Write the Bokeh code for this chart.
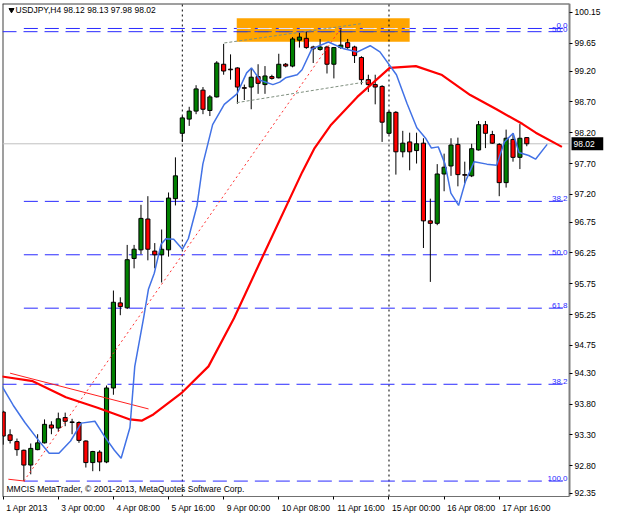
import pandas as pd
from bokeh.plotting import figure
from bokeh.models import Range1d, FixedTicker, Label, ColumnDataSource, PrintfTickFormatter
from bokeh.embed import file_html
from bokeh.resources import INLINE
from bokeh.core.properties import value

# ---------------- data ----------------
symbol = "USDJPY,H4"
bar_times = [t for t in pd.date_range("2013-04-01 16:00", "2013-04-18 08:00", freq="4h") if t.weekday() < 5]

opens = [93.67, 93.30, 93.19, 93.05, 92.81, 93.06, 93.17, 93.46, 93.41, 93.58,
         93.51, 93.50, 93.20, 92.85, 93.02, 92.86, 94.06, 95.44, 95.36, 96.16,
         96.30, 96.80, 96.28, 96.22, 96.30, 97.13, 98.19, 98.42, 98.55, 98.89,
         98.56, 98.78, 99.31, 99.23, 99.25, 98.93, 98.94, 99.11, 98.98, 99.11,
         99.09, 99.31, 99.28, 99.70, 99.73, 99.59, 99.55, 99.59, 99.31, 99.58,
         99.66, 99.59, 99.42, 99.06, 98.98, 98.95, 98.19, 98.53, 97.89, 98.05,
         97.91, 98.03, 96.77, 96.73, 97.53, 97.66, 98.01, 97.52, 97.50, 97.92,
         98.33, 98.17, 98.01, 97.39, 98.09, 97.80, 98.12]
highs = [93.69, 93.39, 93.24, 93.06, 93.16, 93.31, 93.55, 93.52, 93.66, 93.66,
         93.56, 93.52, 93.21, 93.04, 93.05, 94.10, 95.64, 95.53, 96.38, 96.38,
         97.03, 97.17, 96.41, 96.63, 97.23, 97.80, 98.47, 98.62, 98.97, 98.94,
         98.81, 99.36, 99.64, 99.47, 99.26, 98.98, 99.25, 99.31, 99.28, 99.14,
         99.48, 99.33, 99.75, 99.83, 99.84, 99.61, 99.72, 99.61, 99.59, 99.89,
         99.72, 99.61, 99.44, 99.14, 99.14, 98.97, 98.55, 98.55, 98.23, 98.20,
         98.20, 98.11, 97.13, 97.69, 97.86, 98.11, 98.12, 97.73, 98.02, 98.39,
         98.39, 98.23, 98.03, 98.25, 98.19, 98.34, 98.13]
lows = [93.14, 93.16, 92.96, 92.55, 92.66, 93.05, 93.16, 93.31, 93.35, 93.44,
        93.31, 93.17, 92.77, 92.71, 92.71, 92.84, 93.95, 95.24, 95.34, 96.00,
        96.23, 96.13, 96.00, 95.77, 96.19, 97.02, 98.05, 98.31, 98.50, 98.50,
        98.47, 98.77, 99.14, 99.06, 98.67, 98.73, 98.58, 98.83, 98.83, 99.06,
        99.08, 99.26, 99.26, 99.58, 99.56, 99.33, 99.53, 99.16, 99.08, 99.56,
        99.56, 99.33, 98.98, 98.86, 98.66, 98.05, 98.17, 97.52, 97.80, 97.59,
        97.70, 96.33, 95.78, 96.70, 97.25, 97.50, 97.33, 97.38, 97.48, 97.91,
        97.95, 98.02, 97.17, 97.31, 97.73, 97.61, 97.98]
closes = [93.28, 93.21, 93.06, 92.81, 93.08, 93.17, 93.47, 93.41, 93.56, 93.52,
          93.50, 93.21, 92.85, 93.03, 92.86, 94.06, 95.45, 95.38, 96.14, 96.31,
          96.81, 96.31, 96.22, 96.31, 97.14, 97.50, 98.44, 98.55, 98.91, 98.58,
          98.78, 99.33, 99.20, 99.22, 98.94, 98.92, 99.10, 99.00, 99.12, 99.08,
          99.31, 99.28, 99.72, 99.75, 99.58, 99.56, 99.59, 99.31, 99.58, 99.62,
          99.58, 99.45, 99.06, 98.98, 98.94, 98.37, 98.53, 97.89, 98.03, 97.89,
          98.02, 96.77, 96.73, 97.53, 97.64, 98.00, 97.52, 97.51, 97.94, 98.33,
          98.19, 98.03, 97.39, 98.11, 97.80, 98.11, 98.02]

ma_red_bar = [-0.4, 4.3, 9.1, 13.7, 18.4, 20.1, 21.8, 26.0, 29.8, 33.5, 37.7, 43.4,
              45.2, 47.6, 51.4, 56.1, 59.9, 63.6, 67.8, 71.6, 75.4, 77.3, 81.1]
ma_red_val = [94.25, 94.17, 93.91, 93.74, 93.55, 93.53, 93.63, 93.99, 94.41, 95.19, 96.20, 97.56,
              97.95, 98.33, 98.78, 99.25, 99.28, 99.14, 98.81, 98.58, 98.34, 98.20, 97.97]

ma_blue_bar = [-0.4, 1.45, 3.15, 5.27, 6.68, 8.09, 9.78, 11.34, 13.31, 14.73,
               16.14, 17.12, 18.4, 19.1, 20.37, 21.08, 21.93, 22.91, 23.62, 24.75,
               26.02, 26.87, 28.14, 28.98, 30.4, 32.09, 33.93, 35.34, 36.04, 37.31,
               39.15, 40.14, 40.98, 42.68, 43.38, 44.8, 47.2, 49.46, 51.43, 53.27,
               54.68, 57.08, 58.63, 60.04, 61.31, 62.16, 63.15, 64.14, 64.98, 66.1,
               67.1, 68.37, 70.21, 71.62, 72.75, 74.02, 74.87, 76.28, 77.27, 78.96]
ma_blue_val = [94.13, 93.78, 93.50, 93.19, 93.00, 93.00, 93.20, 93.49, 93.52, 93.27,
               93.05, 92.92, 93.42, 94.41, 95.19, 95.66, 95.92, 96.39, 96.48, 96.47,
               96.31, 96.48, 97.02, 97.69, 98.33, 98.66, 98.83, 99.17, 99.25, 99.05,
               98.98, 99.02, 99.09, 99.14, 99.22, 99.56, 99.67, 99.56, 99.51, 99.61,
               99.51, 99.14, 98.67, 98.28, 98.11, 97.95, 97.97, 97.69, 97.22, 97.02,
               97.41, 97.73, 97.69, 97.67, 98.05, 98.19, 97.88, 97.83, 97.77, 98.01]

y_ticks = [100.15, 99.65, 99.20, 98.70, 98.20, 97.70, 97.20, 96.75, 96.25,
           95.75, 95.25, 94.75, 94.30, 93.80, 93.30, 92.80, 92.35]

fib_high, fib_low, fib_start_bar = 99.89, 92.55, 3
fib_levels = [0.0, 38.2, 50.0, 61.8, 100.0]
fib2_texts = ["50.0", "38.2"]
fib2_prices = [99.838, 94.12]

grey_upper = ([32.1, 51.9], [99.655, 99.967])
grey_lower = ([33.9, 53.0], [98.687, 99.03])
fib_diag = ([3, 49], [92.55, 99.89])
red_thin_upper = ([1.0, 21.1], [94.30, 93.72])
red_thin_lower = ([0.75, 3.15], [92.58, 92.55])
box_bars = (33.9, 59.0)
box_prices = (99.675, 100.056)
week_separators = [26, 56]
last_price = closes[-1]

# ---------------- figure ----------------
W, H = 604, 515
BL, BT, BR, BB = 2, 3, 1, 16
x0, X_AX = -0.1, 82.2           # chart area: left edge .. price scale line
y0, y1 = 92.30, 100.295
ppb = (W - BL - 35) / (X_AX - x0)          # pixels per bar
xr = x0 + (W - BL - BR) / ppb               # frame extends over the price scale
ppu = (H - BT - BB) / (y1 - y0)

p = figure(width=W, height=H, x_range=Range1d(x0, xr), y_range=Range1d(y0, y1),
           output_backend="svg", toolbar_location=None, y_axis_location="right",
           min_border_left=BL, min_border_top=BT, min_border_right=BR, min_border_bottom=BB,
           background_fill_color="white", border_fill_color="white")
p.grid.visible = False
p.outline_line_color = None

FONT = "Liberation Sans"
# price scale
ya = p.yaxis[0]
ya.fixed_location = X_AX
ya.ticker = FixedTicker(ticks=y_ticks)
ya.formatter = PrintfTickFormatter(format="%.2f")
ya.axis_line_color = "#808080"
ya.axis_line_width = 2
ya.major_tick_out = 3
ya.major_tick_in = 0
ya.major_tick_line_color = "black"
ya.minor_tick_line_color = None
ya.major_label_standoff = 2
ya.major_label_text_font = FONT
ya.major_label_text_font_size = "8.5px"
ya.major_label_text_color = "black"

# time scale: tick marks at the bar, label text starting just right of it
AW = {**{d: 0.556 for d in "0123456789"}, " ": 0.278, ":": 0.278, "A": 0.667, "p": 0.556, "r": 0.333}
def text_w(s, fs):
    return sum(AW.get(c, 0.55) for c in s) * fs

label_idx = list(range(0, len(bar_times), 8))
labels = [("%d %s" % (bar_times[j].day, bar_times[j].strftime("%b %Y"))) if j == 0
          else ("%d %s" % (bar_times[j].day, bar_times[j].strftime("%b %H:%M"))) for j in label_idx]
centers = [round(j + (3 + text_w(s, 8.5) / 2) / ppb, 3) for j, s in zip(label_idx, labels)]
xa = p.xaxis[0]
xa.bounds = (x0, X_AX)
xa.ticker = FixedTicker(ticks=centers, minor_ticks=label_idx)
xa.major_label_overrides = {c: s for c, s in zip(centers, labels)}
xa.axis_line_color = "#707070"
xa.axis_line_width = 1
xa.major_tick_line_color = None
xa.major_tick_out = 0
xa.major_tick_in = 0
xa.minor_tick_line_color = "black"
xa.minor_tick_out = 3
xa.minor_tick_in = 0
xa.major_label_standoff = 3
xa.major_label_text_font = FONT
xa.major_label_text_font_size = "8.5px"
xa.major_label_text_color = "black"

# chart frame (left and top edges)
p.segment(x0=[x0, x0], x1=[x0, X_AX], y0=[y0, y1], y1=[y1, y1], line_color="#404040", line_width=2)

# ---------------- background objects ----------------
p.quad(left=[box_bars[0]], right=[box_bars[1]], bottom=[box_prices[0]], top=[box_prices[1]],
       fill_color="#FFA500", line_color=None)
p.segment(x0=[x0], x1=[X_AX], y0=[last_price], y1=[last_price], line_color="#c0c0c0", line_width=1)
p.segment(x0=week_separators, x1=week_separators, y0=[y0] * 2, y1=[y1] * 2,
          line_color="black", line_width=1, line_dash="2 3")

fib_prices = [fib_high - (fib_high - fib_low) * L / 100 for L in fib_levels]
p.segment(x0=[fib_start_bar] * len(fib_prices), x1=[X_AX] * len(fib_prices), y0=fib_prices, y1=fib_prices,
          line_color="#2a2aff", line_width=1, line_dash="14 7")
p.segment(x0=[x0] * 2, x1=[X_AX] * 2, y0=fib2_prices, y1=fib2_prices,
          line_color="#2a2aff", line_width=1, line_dash="14 7")
# dashes inside the orange box look inverted
p.segment(x0=[box_bars[0]], x1=[box_bars[1]], y0=[fib_high], y1=[fib_high],
          line_color="white", line_width=1, line_dash="14 7", line_alpha=0.85)
p.segment(x0=[box_bars[0]], x1=[box_bars[1]], y0=[fib2_prices[0]], y1=[fib2_prices[0]],
          line_color="#4a4aa0", line_width=1, line_dash="14 7")

lab_x = X_AX - 2 / ppb
p.text(x=[lab_x] * len(fib_levels), y=fib_prices, text=["%.1f" % L for L in fib_levels],
       text_align="right", text_baseline="bottom", text_font=value(FONT),
       text_font_size="8px", text_color="#2a2aff")
p.text(x=[lab_x] * 2, y=fib2_prices, text=fib2_texts,
       text_align="right", text_baseline="bottom", text_font=value(FONT),
       text_font_size="8px", text_color="#2a2aff")

# ---------------- candles ----------------
n = len(opens)
src = ColumnDataSource(dict(
    x=list(range(n)), o=opens, h=highs, l=lows, c=closes,
    top=[max(a, b) for a, b in zip(opens, closes)],
    bottom=[min(a, b) for a, b in zip(opens, closes)],
    color=["#008000" if c > o else "#ff0000" for o, c in zip(opens, closes)],
))
p.segment(x0="x", y0="l", x1="x", y1="h", source=src, line_color="black", line_width=1)
p.vbar(x="x", width=0.6, top="top", bottom="bottom", fill_color="color",
       line_color="black", line_width=1, source=src)

# ---------------- trend lines ----------------
p.line(*grey_upper, line_color="#7f8f7f", line_width=1, line_dash="3 2")
p.line(*grey_lower, line_color="#7f8f7f", line_width=1, line_dash="3 2")
p.line(*fib_diag, line_color="#ff3030", line_width=1, line_dash="2 3")
p.line(*red_thin_upper, line_color="#ff2020", line_width=1)
p.line(*red_thin_lower, line_color="#ff2020", line_width=1)

# ---------------- moving averages ----------------
p.line(ma_red_bar, ma_red_val, line_color="#ff0000", line_width=2.2)
p.line(ma_blue_bar, ma_blue_val, line_color="#4272e6", line_width=1.5)

# ---------------- texts ----------------
p.scatter(x=[x0 + 9 / ppb], y=[y1 - 6.5 / ppu], marker="inverted_triangle", size=5,
          fill_color="black", line_color="black")
p.add_layout(Label(x=x0 + 13 / ppb, y=y1 - 6.5 / ppu,
                   text="%s  %.2f %.2f %.2f %.2f" % (symbol, opens[-1], highs[-1], lows[-1], closes[-1]),
                   text_baseline="middle", text_font=FONT, text_font_size="8.5px", text_color="black"))
p.add_layout(Label(x=x0 + 4 / ppb, y=y0 + 7.3 / ppu,
                   text="MMCIS MetaTrader, \u00a9 2001-2013, MetaQuotes Software Corp.",
                   text_baseline="middle", text_font=FONT, text_font_size="8.5px", text_color="black"))

# last price tag on the price scale
p.quad(left=[X_AX + 2 / ppb], right=[xr], bottom=[last_price - 6.5 / ppu], top=[last_price + 6.5 / ppu],
       fill_color="black", line_color=None)
p.text(x=[X_AX + 4 / ppb], y=[last_price], text=["%.2f" % last_price], text_baseline="middle",
       text_align="left", text_font=value(FONT), text_font_size="8.5px", text_color="white")

open("out.html", "w").write(file_html(p, INLINE))
